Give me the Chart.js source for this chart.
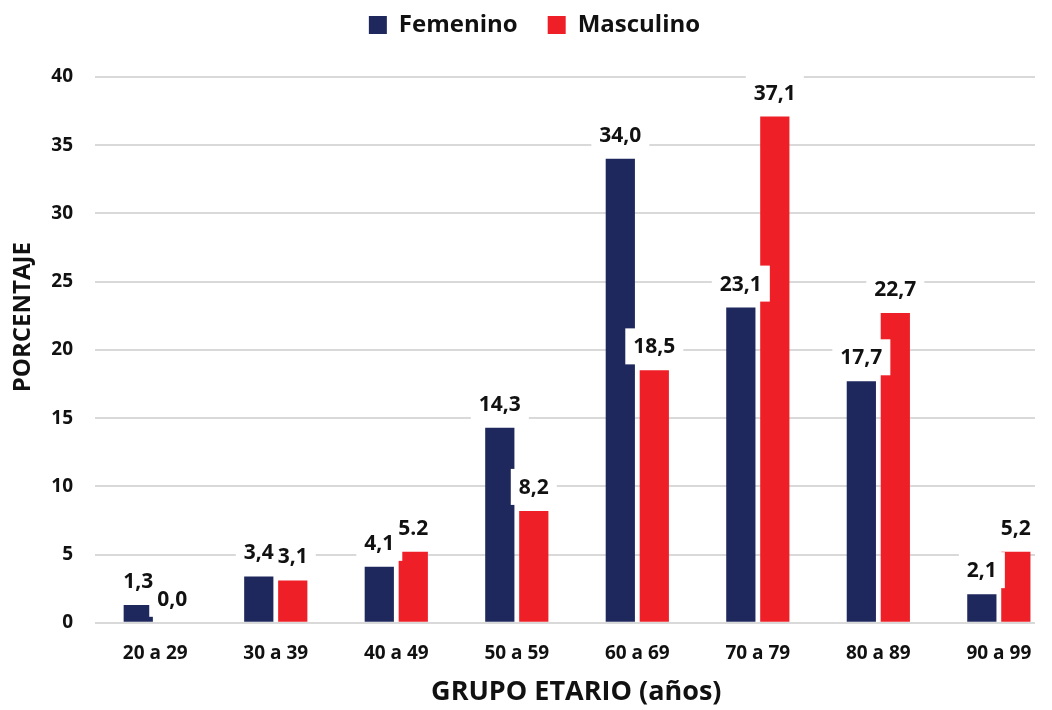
<!DOCTYPE html>
<html>
<head>
<meta charset="utf-8">
<script src="https://cdn.jsdelivr.net/npm/chart.js@4.4.1/dist/chart.umd.min.js"></script>
<style>
html,body{margin:0;padding:0;background:#fff;}
#wrap{width:1052px;height:710px;position:relative;}
</style>
</head>
<body>
<div id="wrap"><canvas id="c"></canvas></div>
<script>
const categories = ["20 a 29","30 a 39","40 a 49","50 a 59","60 a 69","70 a 79","80 a 89","90 a 99"];
const femenino = [1.3, 3.4, 4.1, 14.3, 34.0, 23.1, 17.7, 2.1];
const masculino = [0.0, 3.1, 5.2, 8.2, 18.5, 37.1, 22.7, 5.2];
const femeninoLabels = ["1,3","3,4","4,1","14,3","34,0","23,1","17,7","2,1"];
const masculinoLabels = ["0,0","3,1","5.2","8,2","18,5","37,1","22,7","5,2"];
const yTicks = [0,5,10,15,20,25,30,35,40];
const yTitle = "PORCENTAJE";
const xTitle = "GRUPO ETARIO (años)";

const FONT = "'Open Sans', 'Noto Sans', sans-serif";
const NAVY = "#1f285c";
const RED = "#ee1f26";

const labelPlugin = {
  id: 'boxLabels',
  afterDatasetsDraw(chart) {
    const ctx = chart.ctx;
    const sets = [femeninoLabels, masculinoLabels];
    ctx.save();
    ctx.font = "bold 21px " + FONT;
    ctx.textAlign = "center";
    ctx.textBaseline = "middle";
    sets.forEach((labs, di) => {
      const meta = chart.getDatasetMeta(di);
      meta.data.forEach((bar, i) => {
        const w = ctx.measureText(labs[i]).width + 16;
        const h = 36;
        ctx.fillStyle = "#ffffff";
        ctx.fillRect(bar.x - w/2, bar.y - 24 - h/2, w, h);
      });
    });
    sets.forEach((labs, di) => {
      const meta = chart.getDatasetMeta(di);
      meta.data.forEach((bar, i) => {
        ctx.fillStyle = "#111111";
        ctx.fillText(labs[i], bar.x, bar.y - 23);
      });
    });
    ctx.restore();
  },
  afterDraw(chart) {
    const ctx = chart.ctx;
    const a = chart.chartArea;
    ctx.save();
    ctx.fillStyle = "#111";
    ctx.textAlign = "center";
    ctx.textBaseline = "middle";
    ctx.font = "bold 27px " + FONT;
    ctx.fillText(xTitle, a.left + (a.right - a.left) * 0.512, a.bottom + 70);
    ctx.font = "bold 24px " + FONT;
    ctx.translate(23, a.top + (a.bottom - a.top) * 0.44);
    ctx.rotate(-Math.PI / 2);
    ctx.fillText(yTitle, 0, 0);
    ctx.restore();
  }
};

new Chart(document.getElementById('c'), {
  type: 'bar',
  data: {
    datasets: [
      { label: 'Femenino', data: femenino.map((v,i)=>({x:i,y:v})), backgroundColor: NAVY, borderWidth: 0 },
      { label: 'Masculino', data: masculino.map((v,i)=>({x:i,y:v})), backgroundColor: RED, borderWidth: 0 }
    ]
  },
  options: {
    responsive: true,
    maintainAspectRatio: false,
    animation: false,
    categoryPercentage: 0.564,
    barPercentage: 0.86,
    layout: { padding: { top: -17, left: 34, right: 17, bottom: 0 } },
    plugins: {
      legend: {
        display: true,
        position: 'top',
        labels: {
          font: { family: FONT, size: 24, weight: 'bold' },
          color: '#111',
          boxWidth: 18,
          boxHeight: 18,
          padding: 30
        }
      },
      title: {
        display: true,
        text: ' ',
        position: 'top',
        weight: 500,
        padding: 0,
        font: { size: 30, lineHeight: 1 }
      },
      tooltip: { enabled: false }
    },
    scales: {
      x: {
        type: 'linear',
        offset: false,
        min: -0.5,
        max: 7.30,
        grid: { display: false, drawTicks: false, offset: false },
        border: { display: false },
        afterBuildTicks(scale) { scale.ticks = categories.map((c,i)=>({value:i})); },
        ticks: {
          autoSkip: false,
          maxRotation: 0,
          padding: 19,
          color: '#111',
          font: { family: FONT, size: 19, weight: 'bold' },
          callback: (v) => categories[v]
        },
        title: {
          display: true,
          text: xTitle,
          color: 'rgba(0,0,0,0)',
          font: { family: FONT, size: 27, weight: 'bold' },
          padding: { top: -6, bottom: 0 }
        }
      },
      y: {
        min: 0,
        max: 40,
        afterBuildTicks(scale) { scale.ticks = yTicks.map(v=>({value:v})); },
        afterFit(scale) { scale.width = 95 - 34; },
        grid: { color: '#d9d9d9', lineWidth: 2, drawTicks: false },
        border: { display: false },
        ticks: {
          padding: 22,
          color: '#111',
          font: { family: FONT, size: 19, weight: 'bold' }
        },
        title: { display: false }
      }
    }
  },
  plugins: [labelPlugin]
});
</script>
</body>
</html>
